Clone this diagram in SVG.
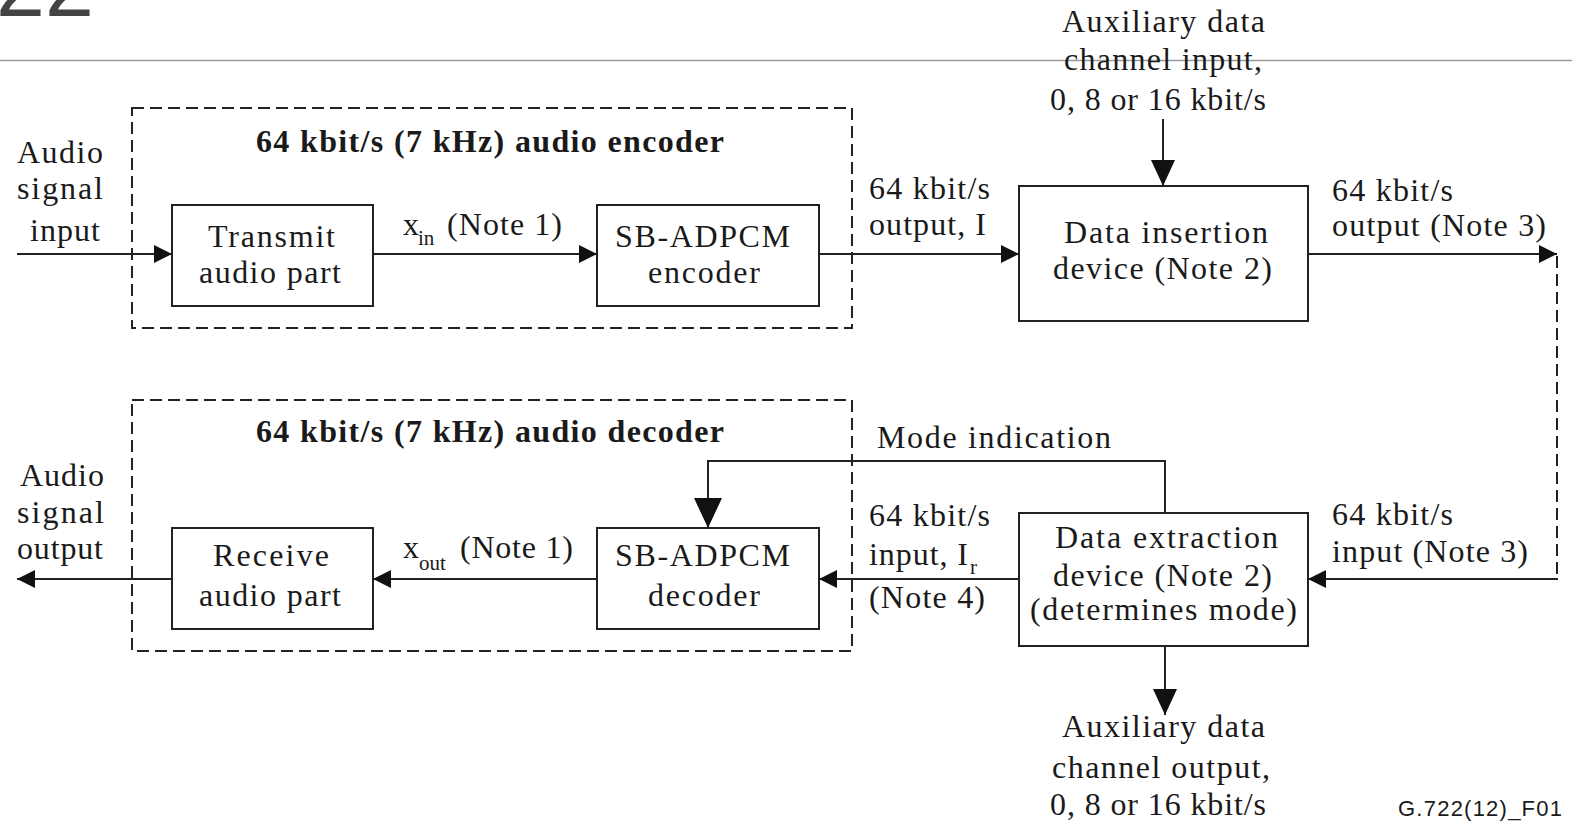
<svg xmlns="http://www.w3.org/2000/svg" width="1572" height="822" viewBox="0 0 1572 822">
<style>
  .t { font-family: "Liberation Serif", "Times New Roman", serif; font-size: 32px; fill: #1a1a1a; }
  .b { font-weight: bold; }
  .sub { font-family: "Liberation Serif", "Times New Roman", serif; font-size: 21px; fill: #1a1a1a; }
  .box { fill: #fff; stroke: #222; stroke-width: 2; }
  .dash { fill: none; stroke: #222; stroke-width: 2; stroke-dasharray: 12 6; }
  .ln { fill: none; stroke: #222; stroke-width: 2; }
</style>
<defs>
  <marker id="ah" markerUnits="userSpaceOnUse" markerWidth="18" markerHeight="18" refX="18" refY="9" orient="auto">
    <path d="M0,0 L18,9 L0,18 z" fill="#111"/>
  </marker>
  <marker id="am" markerUnits="userSpaceOnUse" markerWidth="26" markerHeight="24" refX="26" refY="12" orient="auto">
    <path d="M0,0 L26,12 L0,24 z" fill="#111"/>
  </marker>
  <marker id="al" markerUnits="userSpaceOnUse" markerWidth="30" markerHeight="28" refX="30" refY="14" orient="auto">
    <path d="M0,0 L30,14 L0,28 z" fill="#111"/>
  </marker>
</defs>
<rect x="0" y="0" width="1572" height="822" fill="#fff"/>

<g id="page-header">
  <text x="-4" y="16" font-family="Liberation Sans, Arial, sans-serif" font-size="88" fill="#444">22</text>
  <line x1="0" y1="60.5" x2="1572" y2="60.5" stroke="#9a9a9a" stroke-width="1.5"/>
</g>

<g id="encoder">
  <rect class="dash" x="132" y="108" width="720" height="220"/>
  <text class="t b" x="256" y="152" textLength="468">64 kbit/s (7 kHz) audio encoder</text>
</g>
<g id="transmit">
  <rect class="box" x="172" y="205" width="201" height="101"/>
  <text class="t" x="208" y="247" textLength="127">Transmit</text>
  <text class="t" x="199" y="283" textLength="142">audio part</text>
</g>
<g id="sb-encoder">
  <rect class="box" x="597" y="205" width="222" height="101"/>
  <text class="t" x="615" y="247" textLength="175">SB-ADPCM</text>
  <text class="t" x="648" y="283" textLength="112">encoder</text>
</g>
<g id="data-insertion">
  <rect class="box" x="1019" y="186" width="289" height="135"/>
  <text class="t" x="1064" y="243" textLength="204">Data insertion</text>
  <text class="t" x="1053" y="279" textLength="219">device (Note 2)</text>
</g>

<g id="decoder">
  <rect class="dash" x="132" y="400" width="720" height="251"/>
  <text class="t b" x="256" y="442" textLength="468">64 kbit/s (7 kHz) audio decoder</text>
</g>
<g id="receive">
  <rect class="box" x="172" y="528" width="201" height="101"/>
  <text class="t" x="213" y="566" textLength="116">Receive</text>
  <text class="t" x="199" y="606" textLength="142">audio part</text>
</g>
<g id="sb-decoder">
  <rect class="box" x="597" y="528" width="222" height="101"/>
  <text class="t" x="615" y="566" textLength="175">SB-ADPCM</text>
  <text class="t" x="648" y="606" textLength="112">decoder</text>
</g>
<g id="data-extraction">
  <rect class="box" x="1019" y="513" width="289" height="133"/>
  <text class="t" x="1055" y="548" textLength="223">Data extraction</text>
  <text class="t" x="1053" y="586" textLength="219">device (Note 2)</text>
  <text class="t" x="1030" y="620" textLength="267">(determines mode)</text>
</g>

<g id="connectors">
  <path class="ln" d="M17,254 H172" marker-end="url(#ah)"/>
  <path class="ln" d="M373,254 H597" marker-end="url(#ah)"/>
  <path class="ln" d="M819,254 H1019" marker-end="url(#ah)"/>
  <path class="ln" d="M1308,254 H1557" marker-end="url(#ah)"/>
  <path class="dash" d="M1557,256 V579"/>
  <path class="ln" d="M1558,579 H1308" marker-end="url(#ah)"/>
  <path class="ln" d="M1019,579 H819" marker-end="url(#ah)"/>
  <path class="ln" d="M597,579 H373" marker-end="url(#ah)"/>
  <path class="ln" d="M172,579 H17" marker-end="url(#ah)"/>
  <path class="ln" d="M1165,513 V461 H708 V528" marker-end="url(#al)"/>
  <path class="ln" d="M1163,119 V186" marker-end="url(#am)"/>
  <path class="ln" d="M1165,646 V715" marker-end="url(#am)"/>
</g>

<g id="labels">
  <text class="t" x="17" y="163" textLength="86">Audio</text>
  <text class="t" x="17" y="199" textLength="86">signal</text>
  <text class="t" x="30" y="241" textLength="70">input</text>

  <text class="t" x="403" y="235">x</text>
  <text class="sub" x="418" y="245">in</text>
  <text class="t" x="447" y="235" textLength="115">(Note 1)</text>

  <text class="t" x="869" y="199" textLength="121">64 kbit/s</text>
  <text class="t" x="869" y="235" textLength="117">output, I</text>

  <text class="t" x="1332" y="201" textLength="121">64 kbit/s</text>
  <text class="t" x="1332" y="236" textLength="214">output (Note 3)</text>

  <text class="t" x="1062" y="32" textLength="203">Auxiliary data</text>
  <text class="t" x="1064" y="70" textLength="198">channel input,</text>
  <text class="t" x="1050" y="110" textLength="216">0, 8 or 16 kbit/s</text>

  <text class="t" x="877" y="448" textLength="234">Mode indication</text>

  <text class="t" x="20" y="486" textLength="84">Audio</text>
  <text class="t" x="17" y="523" textLength="87">signal</text>
  <text class="t" x="17" y="559" textLength="86">output</text>

  <text class="t" x="403" y="558">x</text>
  <text class="sub" x="419" y="570">out</text>
  <text class="t" x="460" y="558" textLength="113">(Note 1)</text>

  <text class="t" x="869" y="526" textLength="121">64 kbit/s</text>
  <text class="t" x="869" y="565" textLength="99">input, I</text>
  <text class="sub" x="970" y="574">r</text>
  <text class="t" x="869" y="608" textLength="116">(Note 4)</text>

  <text class="t" x="1332" y="525" textLength="121">64 kbit/s</text>
  <text class="t" x="1332" y="562" textLength="196">input (Note 3)</text>

  <text class="t" x="1062" y="737" textLength="203">Auxiliary data</text>
  <text class="t" x="1052" y="778" textLength="218">channel output,</text>
  <text class="t" x="1050" y="815" textLength="216">0, 8 or 16 kbit/s</text>

  <text x="1398" y="816" font-family="Liberation Sans, Arial, sans-serif" font-size="22" fill="#1a1a1a" textLength="164">G.722(12)_F01</text>
</g>
</svg>
